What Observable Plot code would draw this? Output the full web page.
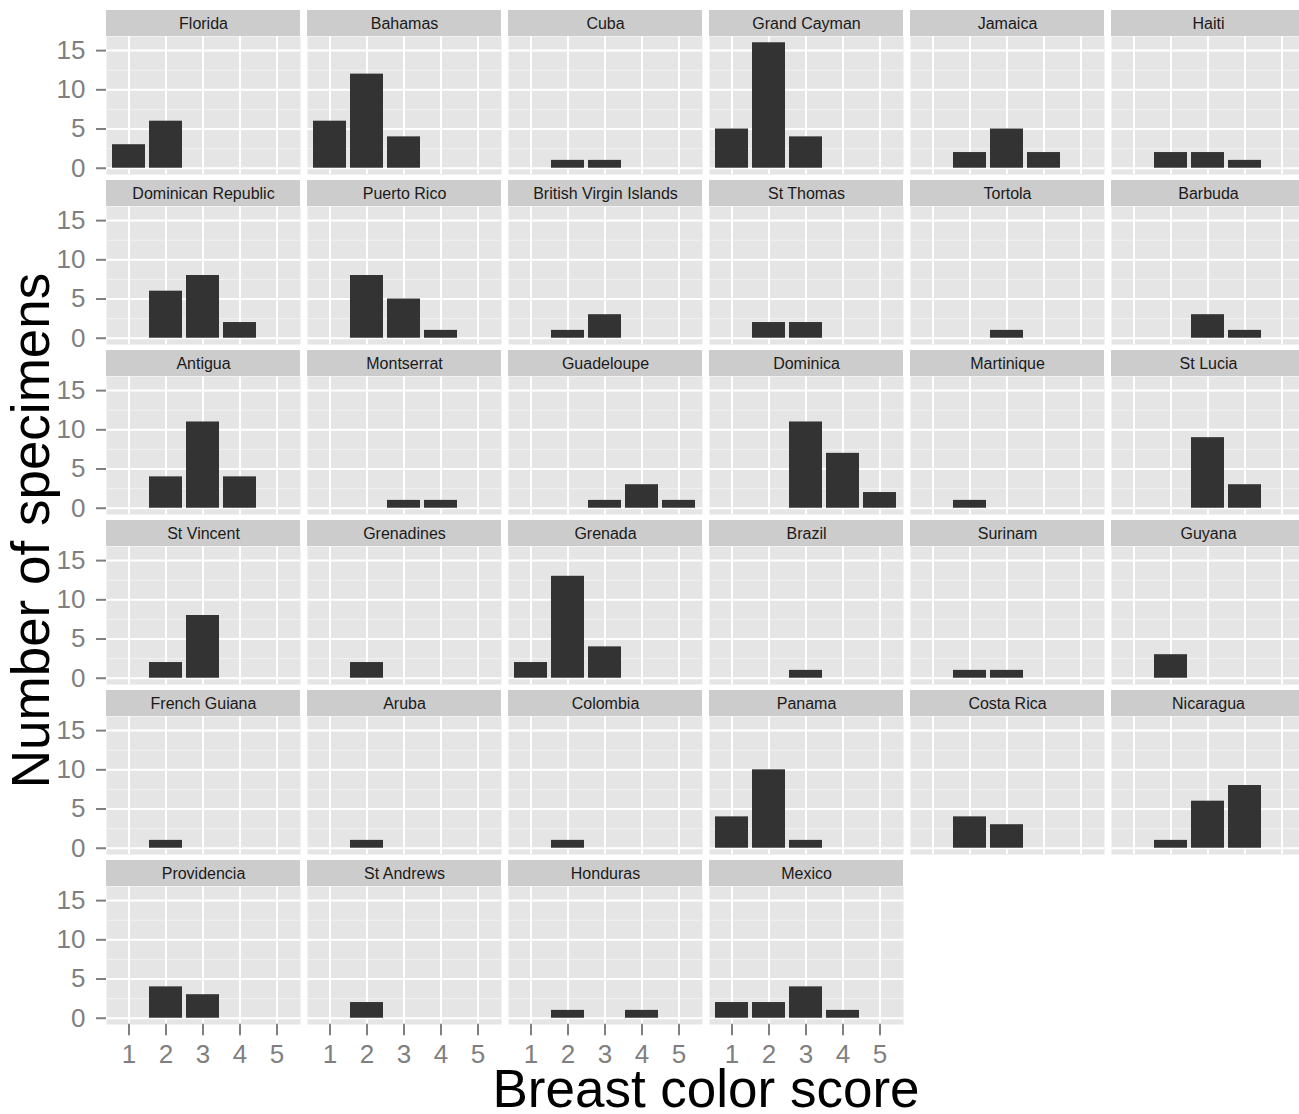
<!DOCTYPE html>
<html>
<head>
<meta charset="utf-8">
<script src="https://cdn.jsdelivr.net/npm/d3@7"></script>
<script src="https://cdn.jsdelivr.net/npm/@observablehq/plot@0.6"></script>
<style>
  html, body { margin: 0; padding: 0; background: #ffffff; overflow: hidden; }
  #chart { width: 1307px; }
</style>
</head>
<body>
<div id="chart"></div>
<script>
// ---- data ----
const places = [
  "Florida", "Bahamas", "Cuba", "Grand Cayman", "Jamaica", "Haiti",
  "Dominican Republic", "Puerto Rico", "British Virgin Islands", "St Thomas", "Tortola", "Barbuda",
  "Antigua", "Montserrat", "Guadeloupe", "Dominica", "Martinique", "St Lucia",
  "St Vincent", "Grenadines", "Grenada", "Brazil", "Surinam", "Guyana",
  "French Guiana", "Aruba", "Colombia", "Panama", "Costa Rica", "Nicaragua",
  "Providencia", "St Andrews", "Honduras", "Mexico"
];
const scores = [1, 2, 3, 4, 5];
// number of specimens for breast color score 1..5, one row per place
const counts = [
  [3, 6, 0, 0, 0],   // Florida
  [6, 12, 4, 0, 0],  // Bahamas
  [0, 1, 1, 0, 0],   // Cuba
  [5, 16, 4, 0, 0],  // Grand Cayman
  [0, 2, 5, 2, 0],   // Jamaica
  [0, 2, 2, 1, 0],   // Haiti
  [0, 6, 8, 2, 0],   // Dominican Republic
  [0, 8, 5, 1, 0],   // Puerto Rico
  [0, 1, 3, 0, 0],   // British Virgin Islands
  [0, 2, 2, 0, 0],   // St Thomas
  [0, 0, 1, 0, 0],   // Tortola
  [0, 0, 3, 1, 0],   // Barbuda
  [0, 4, 11, 4, 0],  // Antigua
  [0, 0, 1, 1, 0],   // Montserrat
  [0, 0, 1, 3, 1],   // Guadeloupe
  [0, 0, 11, 7, 2],  // Dominica
  [0, 1, 0, 0, 0],   // Martinique
  [0, 0, 9, 3, 0],   // St Lucia
  [0, 2, 8, 0, 0],   // St Vincent
  [0, 2, 0, 0, 0],   // Grenadines
  [2, 13, 4, 0, 0],  // Grenada
  [0, 0, 1, 0, 0],   // Brazil
  [0, 1, 1, 0, 0],   // Surinam
  [0, 3, 0, 0, 0],   // Guyana
  [0, 1, 0, 0, 0],   // French Guiana
  [0, 1, 0, 0, 0],   // Aruba
  [0, 1, 0, 0, 0],   // Colombia
  [4, 10, 1, 0, 0],  // Panama
  [0, 4, 3, 0, 0],   // Costa Rica
  [0, 1, 6, 8, 0],   // Nicaragua
  [0, 4, 3, 0, 0],   // Providencia
  [0, 2, 0, 0, 0],   // St Andrews
  [0, 1, 0, 1, 0],   // Honduras
  [2, 2, 4, 1, 0]    // Mexico
];
const yTicks = [0, 5, 10, 15];
const yMinorTicks = [2.5, 7.5, 12.5];
const xTitle = "Breast color score";
const yTitle = "Number of specimens";

// ---- layout (ggplot2 facet_wrap look) ----
const nCol = 6;
const W = 1307, H = 1114;
const marginLeft = 105, colStep = 201.4, panelW = 194.6;
const marginRight = W - (marginLeft + (nCol - 1) * colStep + panelW);
const marginTop = 33.5, rowStep = 170.8, panelH = 139, stripH = 26;
const nRow = Math.ceil(places.length / nCol);
const marginBottom = H - (marginTop + (nRow - 1) * rowStep + panelH);
const tickLen = 10;

const bars = places.flatMap((p, i) =>
  scores.map((s, j) => ({place: p, score: s, count: counts[i][j], col: i % nCol, row: Math.floor(i / nCol)}))
).filter(d => d.count > 0);
const strips = places.map((p, i) => ({place: p, col: i % nCol, row: Math.floor(i / nCol)}));
// x axis only under the panels of the last row (as ggplot2 facet_wrap did)
const xTickData = strips.filter(d => d.row === nRow - 1)
  .flatMap(d => scores.map(s => ({col: d.col, row: d.row, score: s})));
const xLabelData = xTickData.map(d => ({...d}));

const yMax = d3.max(counts.flat());
const yDomain = [-0.05 * yMax, yMax * 1.05];

const grey50 = "#7F7F7F";
// a plain vertical stroke used as the shape of the x-axis tick vectors
const tickShape = {draw(context, l) { context.moveTo(0, 0); context.lineTo(0, -l); }};

const chart = Plot.plot({
  width: W,
  height: H,
  marginLeft, marginRight, marginTop, marginBottom,
  style: {fontFamily: "'Liberation Sans', Arial, Helvetica, sans-serif", background: "#ffffff", overflow: "visible"},
  fx: {domain: d3.range(nCol), axis: null, label: null, paddingInner: (colStep - panelW) / colStep, paddingOuter: 0},
  fy: {domain: d3.range(nRow), axis: null, label: null, paddingInner: (rowStep - panelH) / rowStep, paddingOuter: 0},
  x: {type: "band", domain: scores, paddingInner: 0.1, paddingOuter: 0.15, label: null, axis: null},
  y: {domain: yDomain, label: null},
  marks: [
    Plot.frame({fill: "#E5E5E5", stroke: "none"}),
    Plot.gridY(yMinorTicks, {stroke: "#F2F2F2", strokeOpacity: 1, strokeWidth: 1}),
    Plot.gridY(yTicks, {stroke: "#FFFFFF", strokeOpacity: 1, strokeWidth: 2}),
    Plot.gridX({stroke: "#FFFFFF", strokeOpacity: 1, strokeWidth: 2}),
    Plot.barY(bars, {fx: "col", fy: "row", x: "score", y: "count", fill: "#333333"}),
    Plot.rect(strips, {fx: "col", fy: "row", y1: () => yDomain[1], y2: () => yDomain[1], insetTop: -stripH, fill: "#CCCCCC"}),
    Plot.text(strips, {fx: "col", fy: "row", text: "place", frameAnchor: "top", dy: -stripH / 2, lineAnchor: "middle", fontSize: 16, fill: "#1A1A1A"}),
    Plot.axisY({ticks: yTicks, facetAnchor: "left", tickSize: tickLen, tickPadding: 11, fontSize: 26, color: grey50, strokeWidth: 2, label: null}),
    Plot.vector(xTickData, {fx: "col", fy: "row", x: "score", frameAnchor: "bottom", anchor: "start", rotate: 180, length: tickLen, shape: tickShape, stroke: grey50, strokeWidth: 2}),
    Plot.text(xLabelData, {fx: "col", fy: "row", x: "score", text: d => String(d.score), frameAnchor: "bottom", lineAnchor: "top", dy: 20, fontSize: 26, fill: grey50}),
    Plot.text([xTitle], {facet: "super", text: d => d, frameAnchor: "bottom", lineAnchor: "bottom", dy: 82, fontSize: 53, fill: "#000000"}),
    Plot.text([yTitle], {facet: "super", text: d => d, frameAnchor: "left", textAnchor: "middle", rotate: -90, lineAnchor: "bottom", dx: -58, fontSize: 53, fill: "#000000"})
  ]
});
document.getElementById("chart").appendChild(chart);
</script>
</body>
</html>
